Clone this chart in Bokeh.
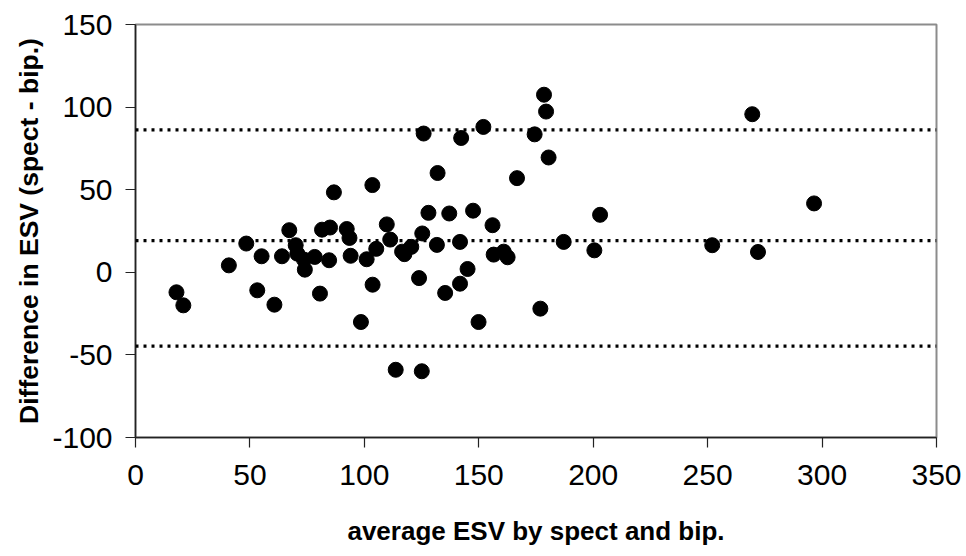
from bokeh.plotting import figure
from bokeh.models import Range1d, FixedTicker, Span, ColumnDataSource, CustomJSTickFormatter, Title
from bokeh.embed import file_html
from bokeh.resources import INLINE

# average ESV by spect and bip.
avg_esv = [17.9, 20.9, 40.8, 48.4, 53.2, 55.1, 60.7, 64.0, 67.2, 70.0,
           70.7, 73.6, 74.0, 78.3, 80.6, 81.5, 85.0, 84.6, 86.7, 92.3,
           93.5, 94.0, 98.5, 101.0, 103.5, 103.6, 105.2, 109.8, 111.3, 113.7,
           116.5, 117.5, 120.5, 123.9, 125.1, 125.3, 125.9, 128.0, 131.7, 132.0,
           135.3, 137.1, 141.8, 141.8, 142.3, 145.1, 147.5, 149.9, 152.0, 156.0,
           156.5, 160.9, 162.6, 166.7, 174.4, 176.9, 178.5, 179.4, 180.5, 187.1,
           200.5, 203.0, 252.0, 269.5, 272.0, 296.5]
# Difference in ESV (spect - bip.)
diff_esv = [-12.1, -20.0, 4.2, 17.4, -10.9, 9.7, -19.6, 9.7, 25.5, 16.4,
            11.3, 7.7, 1.6, 9.3, -12.9, 25.8, 27.1, 7.3, 48.4, 26.2,
            20.8, 10.0, -30.1, 7.9, 52.8, -7.5, 14.2, 29.0, 19.8, -59.0,
            12.5, 11.0, 15.4, -3.5, -59.9, 23.5, 84.0, 36.0, 16.6, 60.1,
            -12.5, 35.6, 18.4, -6.9, 81.3, 2.0, 37.3, -30.1, 88.0, 28.5,
            10.7, 12.5, 9.1, 57.0, 83.5, -22.0, 107.5, 97.3, 69.5, 18.4,
            13.3, 34.8, 16.4, 95.7, 12.3, 41.7]

mean_diff = 19.2
upper_loa = 86.2
lower_loa = -44.7

x_ticks = [0, 50, 100, 150, 200, 250, 300, 350]
y_ticks = [-100, -50, 0, 50, 100, 150]

x_title = "average ESV by spect and bip."
y_title = "Difference in ESV (spect - bip.)"

src = ColumnDataSource(data=dict(x=avg_esv, y=diff_esv))

p = figure(width=966, height=556, output_backend="svg", toolbar_location=None,
           x_range=Range1d(0, 350), y_range=Range1d(-100, 150),
           min_border_left=135, min_border_right=30,
           min_border_top=24, min_border_bottom=119)

p.background_fill_color = "white"
p.border_fill_color = "white"
p.outline_line_color = "#8c8c8c"
p.outline_line_width = 2
p.xgrid.visible = False
p.ygrid.visible = False

for lvl in (upper_loa, mean_diff, lower_loa):
    p.add_layout(Span(location=lvl, dimension="width", line_color="black",
                      line_width=3.3, line_dash="3 5"))

p.scatter("x", "y", source=src, marker="circle", size=15,
          fill_color="black", line_color="black")

fmt = CustomJSTickFormatter(code="return tick.toString();")

for ax in (p.xaxis[0], p.yaxis[0]):
    ax.formatter = fmt
    ax.axis_line_color = "#222222"
    ax.axis_line_width = 1.5
    ax.major_tick_line_color = "#222222"
    ax.major_tick_line_width = 1.2
    ax.major_tick_out = 10
    ax.major_tick_in = 0
    ax.minor_tick_line_color = None
    ax.major_label_text_font = "Liberation Sans"
    ax.major_label_text_font_size = "30px"
    ax.major_label_text_color = "black"
    ax.axis_label_text_font = "Liberation Sans"
    ax.axis_label_text_font_size = "26px"
    ax.axis_label_text_font_style = "bold"
    ax.axis_label_text_color = "black"

p.xaxis.ticker = FixedTicker(ticks=x_ticks)
p.yaxis.ticker = FixedTicker(ticks=y_ticks)
p.xaxis.axis_label = x_title
p.xaxis.major_label_standoff = 17
p.yaxis.major_label_standoff = 13
p.xaxis.axis_label_standoff = 28

ytitle = Title(text=y_title, align="center", offset=8,
               text_font="Liberation Sans", text_font_size="26.5px",
               text_font_style="bold", text_color="black", standoff=11)
p.add_layout(ytitle, "left")

open("out.html", "w").write(file_html(p, INLINE))
